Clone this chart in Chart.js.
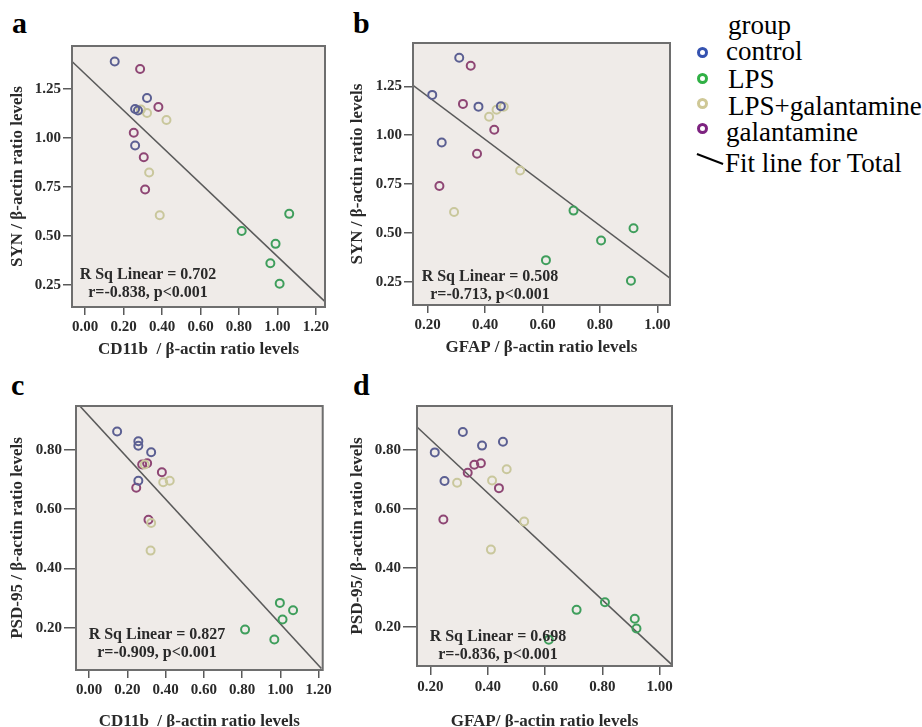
<!DOCTYPE html>
<html>
<head>
<meta charset="utf-8">
<script src="https://cdn.jsdelivr.net/npm/chart.js@4"></script>
<style>
  body { margin: 0; background: #fff; overflow: hidden; width: 922px; height: 727px; position: relative; font-family: 'Liberation Serif', 'Times New Roman', serif; }
  .box { position: absolute; }
  .letter { position: absolute; font-weight: bold; font-size: 30px; line-height: 30px; }
  .lg { position: absolute; font-size: 27px; line-height: 27px; white-space: nowrap; }
  .dot { position: absolute; width: 5px; height: 5px; border-radius: 50%; border: 3px solid; }
</style>
</head>
<body>

<div class="letter" style="left:12px; top:8px">a</div>
<div class="letter" style="left:353px; top:8px">b</div>
<div class="letter" style="left:11px; top:370px">c</div>
<div class="letter" style="left:353px; top:370px">d</div>

<div class="box" style="left:0; top:0; width:335px; height:365px"><canvas id="chartA"></canvas></div>
<div class="box" style="left:340px; top:0; width:340px; height:365px"><canvas id="chartB"></canvas></div>
<div class="box" style="left:0; top:360px; width:335px; height:375px"><canvas id="chartC"></canvas></div>
<div class="box" style="left:340px; top:360px; width:340px; height:375px"><canvas id="chartD"></canvas></div>

<!-- legend -->
<div class="lg" style="left:728px; top:12px">group</div>
<div class="dot" style="left:697px; top:47px; border-color:#3552b0"></div>
<div class="lg" style="left:726px; top:38px">control</div>
<div class="dot" style="left:697px; top:73px; border-color:#30b045"></div>
<div class="lg" style="left:728px; top:66px">LPS</div>
<div class="dot" style="left:697px; top:98px; border-color:#cfc896"></div>
<div class="lg" style="left:728px; top:93px">LPS+galantamine</div>
<div class="dot" style="left:697px; top:123px; border-color:#7d2380"></div>
<div class="lg" style="left:726px; top:119px">galantamine</div>
<div style="position:absolute; left:696px; top:158px; width:28px; height:2px; background:#000; transform:rotate(21deg)"></div>
<div class="lg" style="left:725px; top:150px">Fit line for Total</div>

<script>
// groups
const groups = ['control', 'LPS', 'LPS+galantamine', 'galantamine'];
const groupColors = ['#5b5f92', '#3f9e5c', '#c9c79c', '#8e4674'];

// tick labels
const cd11bTicks = [0.00, 0.20, 0.40, 0.60, 0.80, 1.00, 1.20];
const gfapTicks = [0.20, 0.40, 0.60, 0.80, 1.00];
const synTicks = [0.25, 0.50, 0.75, 1.00, 1.25];
const psdTicks = [0.20, 0.40, 0.60, 0.80];

// panel a: CD11b vs SYN
const aControlX = [0.154, 0.322, 0.26, 0.26, 0.275];
const aControlY = [1.39, 1.204, 1.148, 0.962, 1.14];
const aLpsX = [1.061, 0.814, 0.99, 0.963, 1.011];
const aLpsY = [0.613, 0.526, 0.46, 0.361, 0.257];
const aLpsGalX = [0.322, 0.423, 0.333, 0.388, 0.29];
const aLpsGalY = [1.127, 1.092, 0.824, 0.606, 1.145];
const aGalX = [0.286, 0.381, 0.253, 0.305, 0.312];
const aGalY = [1.352, 1.158, 1.027, 0.902, 0.737];
const aFitX = [-0.068, 1.247];
const aFitY = [1.39, 0.165];

// panel b: GFAP vs SYN
const bControlX = [0.310, 0.216, 0.377, 0.249, 0.455];
const bControlY = [1.396, 1.206, 1.146, 0.963, 1.148];
const bLpsX = [0.708, 0.917, 0.804, 0.612, 0.908];
const bLpsY = [0.615, 0.525, 0.462, 0.362, 0.257];
const bLpsGalX = [0.414, 0.44, 0.465, 0.522, 0.292];
const bLpsGalY = [1.094, 1.13, 1.145, 0.82, 0.608];
const bGalX = [0.350, 0.323, 0.432, 0.372, 0.241];
const bGalY = [1.355, 1.16, 1.028, 0.905, 0.741];
const bFitX = [0.149, 1.044];
const bFitY = [1.255, 0.27];

// panel c: CD11b vs PSD-95
const cControlX = [0.146, 0.257, 0.257, 0.324, 0.257];
const cControlY = [0.861, 0.828, 0.813, 0.791, 0.695];
const cLpsX = [0.997, 1.066, 1.011, 0.815, 0.968];
const cLpsY = [0.284, 0.259, 0.228, 0.194, 0.161];
const cLpsGalX = [0.387, 0.421, 0.324, 0.321, 0.29];
const cLpsGalY = [0.69, 0.695, 0.553, 0.46, 0.75];
const cGalX = [0.277, 0.303, 0.38, 0.246, 0.31];
const cGalY = [0.75, 0.754, 0.724, 0.672, 0.564];
const cFitX = [-0.049, 1.214];
const cFitY = [0.947, 0.063];

// panel d: GFAP vs PSD-95
const dControlX = [0.313, 0.215, 0.38, 0.453, 0.249];
const dControlY = [0.860, 0.791, 0.814, 0.827, 0.694];
const dLpsX = [0.809, 0.710, 0.913, 0.919, 0.613];
const dLpsY = [0.284, 0.258, 0.228, 0.195, 0.157];
const dLpsGalX = [0.293, 0.415, 0.466, 0.527, 0.411];
const dLpsGalY = [0.688, 0.696, 0.734, 0.557, 0.462];
const dGalX = [0.353, 0.376, 0.330, 0.439, 0.245];
const dGalY = [0.749, 0.754, 0.722, 0.670, 0.564];
const dFitX = [0.153, 1.043];
const dFitY = [0.877, 0.072];

const serif = "'Liberation Serif', 'Times New Roman', serif";

function pts(xs, ys) {
    return xs.map((x, i) => ({ x: x, y: ys[i] }));
}

// plot background, frame and the R Sq note
const framePlugin = {
    id: 'frame',
    beforeDatasetsDraw(chart) {
        const a = chart.chartArea;
        const ctx = chart.ctx;
        ctx.save();
        ctx.fillStyle = '#efebe8';
        ctx.fillRect(a.left, a.top, a.right - a.left, a.bottom - a.top);
        ctx.restore();
    },
    afterDraw(chart, args, opts) {
        const a = chart.chartArea;
        const ctx = chart.ctx;
        ctx.save();
        ctx.strokeStyle = '#6e6e6e';
        ctx.lineWidth = 2;
        ctx.strokeRect(a.left, a.top, a.right - a.left, a.bottom - a.top);
        ctx.fillStyle = '#2a2a2a';
        ctx.font = 'bold 16px ' + serif;
        ctx.textAlign = 'center';
        ctx.textBaseline = 'middle';
        ctx.fillText(opts.lines[0], a.left + opts.dx, a.bottom - opts.dy1);
        ctx.fillText(opts.lines[1], a.left + opts.dx, a.bottom - opts.dy2);
        ctx.restore();
    }
};

function makeChart(id, p) {
    const datasets = p.series.map((s, i) => ({
        label: groups[i],
        data: pts(s[0], s[1]),
        borderColor: groupColors[i],
        backgroundColor: 'transparent',
        pointRadius: 4,
        pointBorderWidth: 2,
        showLine: false
    }));
    datasets.push({
        label: 'Fit line for Total',
        data: pts(p.fit[0], p.fit[1]),
        type: 'line',
        borderColor: '#5a5a5a',
        borderWidth: 1.6,
        pointRadius: 0,
        fill: false
    });

    new Chart(document.getElementById(id), {
        type: 'scatter',
        data: { datasets: datasets },
        plugins: [framePlugin],
        options: {
            responsive: true,
            maintainAspectRatio: false,
            animation: false,
            layout: { padding: { top: p.padTop, right: p.padRight, left: 0, bottom: 0 } },
            plugins: {
                legend: { display: false },
                tooltip: { enabled: false },
                frame: p.note
            },
            scales: {
                x: {
                    type: 'linear',
                    min: p.xRange[0],
                    max: p.xRange[1],
                    afterBuildTicks: scale => { scale.ticks = p.xTicks.map(v => ({ value: v })); },
                    afterFit: scale => { scale.height = p.xAxisH; },
                    ticks: {
                        callback: v => v.toFixed(2),
                        font: { family: serif, weight: 'bold', size: 15 },
                        color: '#2a2a2a',
                        padding: 3,
                        maxRotation: 0
                    },
                    grid: { drawOnChartArea: false, drawTicks: true, tickLength: p.xTickLen, color: '#5a5a5a', lineWidth: 1.5 },
                    border: { display: false },
                    title: {
                        display: true,
                        text: p.xTitle,
                        font: { family: serif, weight: 'bold', size: 17 },
                        color: '#2a2a2a',
                        padding: { top: 0, bottom: p.xTitlePad }
                    }
                },
                y: {
                    type: 'linear',
                    min: p.yRange[0],
                    max: p.yRange[1],
                    afterBuildTicks: scale => { scale.ticks = p.yTicks.map(v => ({ value: v })); },
                    afterFit: scale => { scale.width = p.yAxisW; },
                    ticks: {
                        callback: v => v.toFixed(2),
                        font: { family: serif, weight: 'bold', size: 15 },
                        color: '#2a2a2a',
                        padding: 2
                    },
                    grid: { drawOnChartArea: false, drawTicks: true, tickLength: p.yTickLen, color: '#5a5a5a', lineWidth: 1.5 },
                    border: { display: false },
                    title: {
                        display: true,
                        text: p.yTitle,
                        font: { family: serif, weight: 'bold', size: 17 },
                        color: '#2a2a2a',
                        padding: { top: 7, bottom: 0 }
                    }
                }
            }
        }
    });
}

makeChart('chartA', {
    series: [[aControlX, aControlY], [aLpsX, aLpsY], [aLpsGalX, aLpsGalY], [aGalX, aGalY]],
    fit: [aFitX, aFitY],
    xRange: [-0.068, 1.247], yRange: [0.138, 1.469],
    xTicks: cd11bTicks, yTicks: synTicks,
    xTitle: 'CD11b  / \u03b2-actin ratio levels', yTitle: 'SYN / \u03b2-actin ratio levels',
    padTop: 46, padRight: 10, yAxisW: 72, xAxisH: 58, yTickLen: 9, xTickLen: 8, xTitlePad: 5,
    note: { lines: ['R Sq Linear = 0.702', 'r=-0.838, p<0.001'], dx: 76, dy1: 32, dy2: 14 }
});

makeChart('chartB', {
    series: [[bControlX, bControlY], [bLpsX, bLpsY], [bLpsGalX, bLpsGalY], [bGalX, bGalY]],
    fit: [bFitX, bFitY],
    xRange: [0.149, 1.044], yRange: [0.133, 1.471],
    xTicks: gfapTicks, yTicks: synTicks,
    xTitle: 'GFAP / \u03b2-actin ratio levels', yTitle: 'SYN / \u03b2-actin ratio levels',
    padTop: 43, padRight: 10, yAxisW: 73, xAxisH: 60, yTickLen: 9, xTickLen: 8, xTitlePad: 7,
    note: { lines: ['R Sq Linear = 0.508', 'r=-0.713, p<0.001'], dx: 77, dy1: 28, dy2: 10 }
});

makeChart('chartC', {
    series: [[cControlX, cControlY], [cLpsX, cLpsY], [cLpsGalX, cLpsGalY], [cGalX, cGalY]],
    fit: [cFitX, cFitY],
    xRange: [-0.069, 1.221], yRange: [0.058, 0.947],
    xTicks: cd11bTicks, yTicks: psdTicks,
    xTitle: 'CD11b  / \u03b2-actin ratio levels', yTitle: 'PSD-95 / \u03b2-actin ratio levels',
    padTop: 46, padRight: 11, yAxisW: 76, xAxisH: 65, yTickLen: 12, xTickLen: 8, xTitlePad: 3,
    note: { lines: ['R Sq Linear = 0.827', 'r=-0.909, p<0.001'], dx: 81, dy1: 35, dy2: 17 }
});

makeChart('chartD', {
    series: [[dControlX, dControlY], [dLpsX, dLpsY], [dLpsGalX, dLpsGalY], [dGalX, dGalY]],
    fit: [dFitX, dFitY],
    xRange: [0.153, 1.043], yRange: [0.068, 0.948],
    xTicks: gfapTicks, yTicks: psdTicks,
    xTitle: 'GFAP/ \u03b2-actin ratio levels', yTitle: 'PSD-95/ \u03b2-actin ratio levels',
    padTop: 46, padRight: 8, yAxisW: 77, xAxisH: 69, yTickLen: 14, xTickLen: 9, xTitlePad: 3,
    note: { lines: ['R Sq Linear = 0.698', 'r=-0.836, p<0.001'], dx: 81, dy1: 29, dy2: 11 }
});
</script>
</body>
</html>
